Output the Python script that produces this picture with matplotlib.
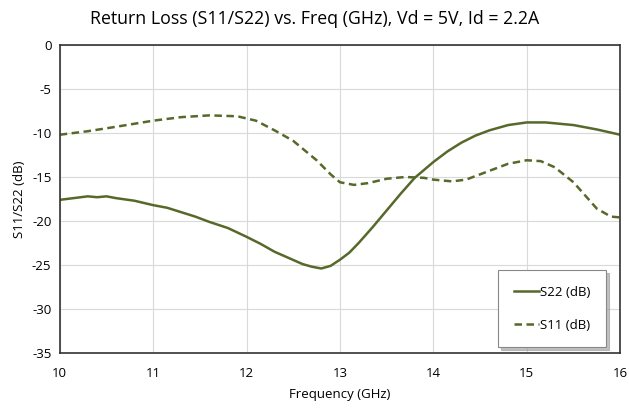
import numpy as np
import matplotlib.pyplot as plt

plt.rcParams['font.family'] = ['Open Sans', 'DejaVu Sans']
plt.rcParams['axes.unicode_minus'] = False

# values
freq_s22 = [10.0, 10.15, 10.3, 10.4, 10.5, 10.6, 10.8, 11.0, 11.15, 11.3, 11.45, 11.6,
            11.8, 12.0, 12.15, 12.3, 12.45, 12.6, 12.7, 12.8, 12.9, 13.0, 13.1, 13.2,
            13.35, 13.5, 13.65, 13.8, 14.0, 14.15, 14.3, 14.45, 14.6, 14.8, 15.0,
            15.2, 15.5, 15.75, 16.0]
s22 = [-17.6, -17.4, -17.2, -17.3, -17.2, -17.4, -17.7, -18.2, -18.5, -19.0, -19.5, -20.1,
       -20.8, -21.8, -22.6, -23.5, -24.2, -24.9, -25.2, -25.4, -25.1, -24.4, -23.6, -22.5,
       -20.7, -18.8, -16.9, -15.1, -13.3, -12.1, -11.1, -10.3, -9.7, -9.1, -8.8,
       -8.8, -9.1, -9.6, -10.2]

freq_s11 = [10.0, 10.3, 10.6, 11.0, 11.3, 11.6, 11.9, 12.1, 12.3, 12.5, 12.75, 12.9,
            13.0, 13.15, 13.3, 13.5, 13.7, 13.9, 14.0, 14.2, 14.35, 14.5, 14.8, 15.0,
            15.15, 15.3, 15.5, 15.65, 15.75, 15.9, 16.0]
s11 = [-10.2, -9.8, -9.3, -8.6, -8.2, -8.0, -8.1, -8.6, -9.7, -10.9, -13.1, -14.7,
       -15.6, -15.9, -15.7, -15.2, -15.0, -15.1, -15.3, -15.5, -15.3, -14.7, -13.5, -13.1,
       -13.2, -13.9, -15.6, -17.4, -18.6, -19.5, -19.6]

line_color = '#56692b'

fig = plt.figure(figsize=(6.29, 4.09), dpi=100)
ax = fig.add_axes([0.095, 0.137, 0.891, 0.753])

ax.plot(freq_s22, s22, color=line_color, lw=1.8, label='S22 (dB)')
ax.plot(freq_s11, s11, color=line_color, lw=1.8, ls=(0, (3, 1.8)), label='S11 (dB)')

ax.set_xlim(10, 16)
ax.set_ylim(-35, 0)
ax.set_xticks(range(10, 17))
ax.set_yticks(range(-35, 1, 5))
ax.grid(color='#d9d9d9', lw=0.8)
ax.set_axisbelow(True)
for s in ax.spines.values():
    s.set_color('#333333')
    s.set_linewidth(1.2)
ax.tick_params(length=0, labelsize=9.5, pad=6)
ax.tick_params(axis='x', pad=10)

ax.set_xlabel('Frequency (GHz)', fontsize=9.5, labelpad=6)
ax.set_ylabel('S11/S22 (dB)', fontsize=9.5)
fig.suptitle('Return Loss (S11/S22) vs. Freq (GHz), Vd = 5V, Id = 2.2A', fontsize=12.8, y=0.975)

leg = ax.legend(loc='lower right', bbox_to_anchor=(0.975, 0.018), fontsize=9.5,
                fancybox=False, shadow={'ox': 2, 'oy': -2, 'color': '#999999', 'alpha': 0.6},
                edgecolor='#888888', framealpha=1,
                handlelength=1.9, handletextpad=0.1, labelspacing=1.5,
                borderpad=1.2, borderaxespad=0)
leg.get_frame().set_linewidth(0.8)

fig.savefig('out.png', dpi=100)
